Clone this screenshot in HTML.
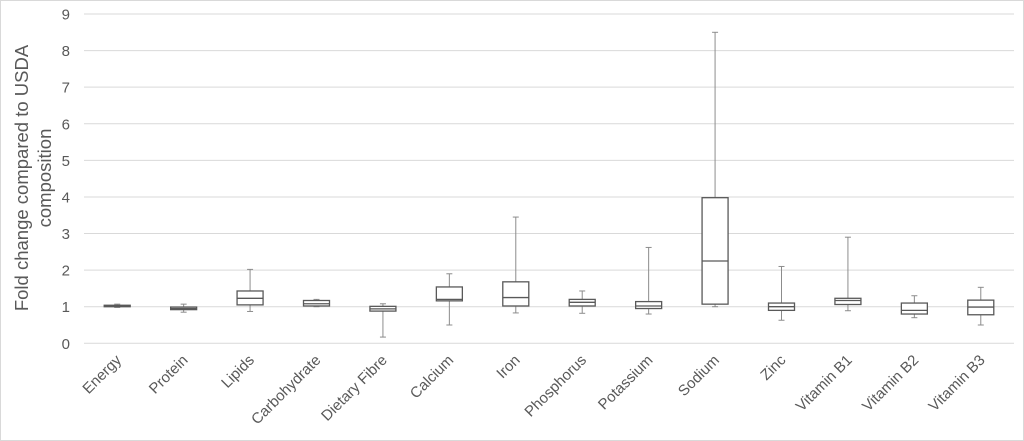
<!DOCTYPE html>
<html><head><meta charset="utf-8"><style>
body{margin:0;background:#fff;}
svg{display:block;font-family:"Liberation Sans",sans-serif;}
</style></head><body>
<svg id="chart" width="1024" height="441">
<rect x="0.5" y="0.5" width="1023" height="440" fill="#fff" stroke="#d9d9d9"/>
<g id="grid"></g><g id="boxes"></g><g id="labels"></g>
<text transform="translate(32,178) rotate(-90)" text-anchor="middle" font-size="18.5" fill="#595959"><tspan x="0" dy="-4">Fold change compared to USDA</tspan><tspan x="0" dy="23">composition</tspan></text>
</svg>
<script>
const categories=["Energy","Protein","Lipids","Carbohydrate","Dietary Fibre","Calcium","Iron","Phosphorus","Potassium","Sodium","Zinc","Vitamin B1","Vitamin B2","Vitamin B3"];
const mins=[0.98,0.85,0.87,1.0,0.17,0.5,0.83,0.82,0.8,1.0,0.63,0.89,0.7,0.5];
const q1=[1.0,0.92,1.05,1.02,0.88,1.16,1.02,1.02,0.95,1.07,0.9,1.06,0.8,0.78];
const medians=[1.02,0.95,1.23,1.08,0.94,1.2,1.25,1.12,1.02,2.25,1.0,1.17,0.9,0.99];
const q3=[1.04,0.99,1.43,1.17,1.01,1.54,1.68,1.2,1.14,3.98,1.1,1.23,1.1,1.18];
const maxs=[1.07,1.07,2.02,1.2,1.08,1.9,3.45,1.43,2.62,8.5,2.1,2.9,1.3,1.53];
const yTicks=[0,1,2,3,4,5,6,7,8,9];
const NS="http://www.w3.org/2000/svg";
const x0=84,x1=1014,yBase=343.3,yTop=14;
const yS=v=>yBase-(yBase-yTop)*v/9;
const step=(x1-x0)/categories.length;
const xS=i=>x0+step*(i+0.5);
function mk(t,a,p){const e=document.createElementNS(NS,t);for(const k in a)e.setAttribute(k,a[k]);p.appendChild(e);return e;}
const grid=document.getElementById('grid'),boxes=document.getElementById('boxes'),labels=document.getElementById('labels');
yTicks.forEach(v=>{
  const l=mk('line',{x1:x0,x2:x1,y1:yS(v),y2:yS(v),stroke:'#d9d9d9','stroke-width':1},grid);
  
  
  const t=mk('text',{x:70,y:yS(v)+5.5,'text-anchor':'end','font-size':15,fill:'#595959'},grid);
  t.textContent=v;
  
  
});
categories.forEach((c,i)=>{
  const cx=xS(i),w=13;
  const g=mk('g',{},boxes);
  
  
  mk('line',{x1:cx,x2:cx,y1:yS(maxs[i]),y2:yS(q3[i]),stroke:'#8c8c8c'},g);
  mk('line',{x1:cx,x2:cx,y1:yS(q1[i]),y2:yS(mins[i]),stroke:'#8c8c8c'},g);
  mk('line',{x1:cx-3,x2:cx+3,y1:yS(maxs[i]),y2:yS(maxs[i]),stroke:'#8c8c8c'},g);
  mk('line',{x1:cx-3,x2:cx+3,y1:yS(mins[i]),y2:yS(mins[i]),stroke:'#8c8c8c'},g);
  mk('rect',{x:cx-w,y:yS(q3[i]),width:2*w,height:Math.max(1,yS(q1[i])-yS(q3[i])),fill:'#fff',stroke:'#595959','stroke-width':1.3},g);
  mk('line',{x1:cx-w,x2:cx+w,y1:yS(medians[i]),y2:yS(medians[i]),stroke:'#595959','stroke-width':1.3},g);
  const t=mk('text',{transform:`translate(${cx+5},${361}) rotate(-45)`,'text-anchor':'end','font-size':15,fill:'#595959'},labels);
  t.textContent=c;
  
  
});
</script>
</body></html>
